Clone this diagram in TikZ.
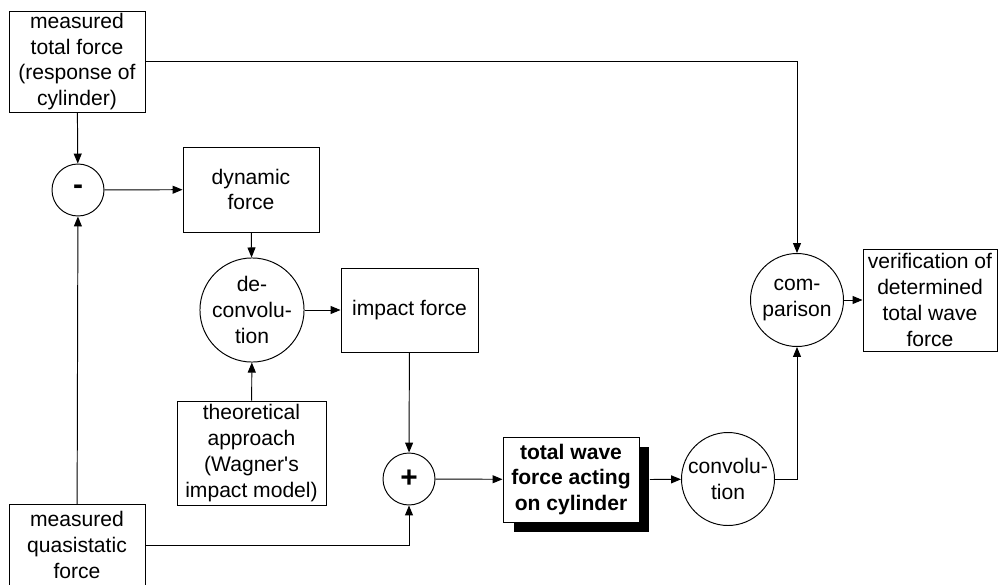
\documentclass[tikz,border=0pt]{standalone}
\usepackage{fontspec}
\setmainfont{Liberation Sans}
\usetikzlibrary{arrows.meta,positioning,shadows}

\begin{document}
\begin{tikzpicture}[x=0.02cm,y=-0.02cm,>={Triangle[length=2mm,width=1.6mm]},line width=0.55pt,
  box/.style={draw,rectangle,inner sep=0pt,align=center,font=\fontsize{12}{14.7}\selectfont},
  op/.style={draw,circle,inner sep=0pt,align=center,font=\fontsize{12}{14.7}\selectfont},
  sign/.style={draw,circle,inner sep=0pt,minimum size=1.04cm,font=\fontsize{17}{17}\selectfont\bfseries}]

\useasboundingbox (0,0) rectangle (998,585);

% --- measured signals ---
\node[box,minimum width=2.72cm,minimum height=2.02cm] (mtf) at (77,61.5) {measured\\total force\\(response of\\cylinder)};
\node[box,minimum width=2.72cm,minimum height=1.62cm] (quasi) at (77,545) {measured\\quasistatic\\force};
\node[sign] (minus) at (78,190) {-};

% --- deconvolution branch ---
\node[box,minimum width=2.72cm,minimum height=1.7cm] (dyn) at (251,189.5) {dynamic\\force};
\node[op,minimum size=1.88cm] (deconv) at (252,310) {de-\\convolu-\\tion};
\node[box,minimum width=2.74cm,minimum height=1.68cm] (imp) at (409.5,310) {impact force};
\node[box,minimum width=2.98cm,minimum height=2.08cm] (theo) at (251.5,453) {theoretical\\approach\\(Wagner\textquotesingle s\\impact model)};

% --- total force and check ---
\node[sign] (plus) at (409,479) {+};
\node[box,font=\fontsize{12}{14.7}\selectfont\bfseries,fill=white,minimum width=2.72cm,minimum height=1.7cm,
  drop shadow={shadow xshift=0.21cm,shadow yshift=-0.2cm,fill=black,opacity=1}] (twf) at (571,479.5) {total wave\\force acting\\on cylinder};
\node[op,minimum size=1.86cm] (conv) at (728,479) {convolu-\\tion};
\node[op,minimum size=1.86cm] (comp) at (797,300) {com-\\parison};
\node[box,minimum width=2.68cm,minimum height=2.04cm] (verif) at (930,300) {verification of\\determined\\total wave\\force};

% --- connectors ---
\draw[->] (mtf) -- (minus);
\draw[->] (quasi) -- (minus);
\draw[->] (mtf.east) -| (comp.north);
\draw[->] (minus) -- (dyn);
\draw[->] (dyn) -- (deconv);
\draw[->] (theo) -- (deconv);
\draw[->] (deconv) -- (imp);
\draw[->] (imp) -- (plus);
\draw[->] (quasi.east) -| (plus.south);
\draw[->] (plus) -- (twf);
\draw[->] ([xshift=0.21cm]twf.east) -- (conv);
\draw[->] (conv.east) -| (comp.south);
\draw[->] (comp) -- (verif);

\end{tikzpicture}
\end{document}
